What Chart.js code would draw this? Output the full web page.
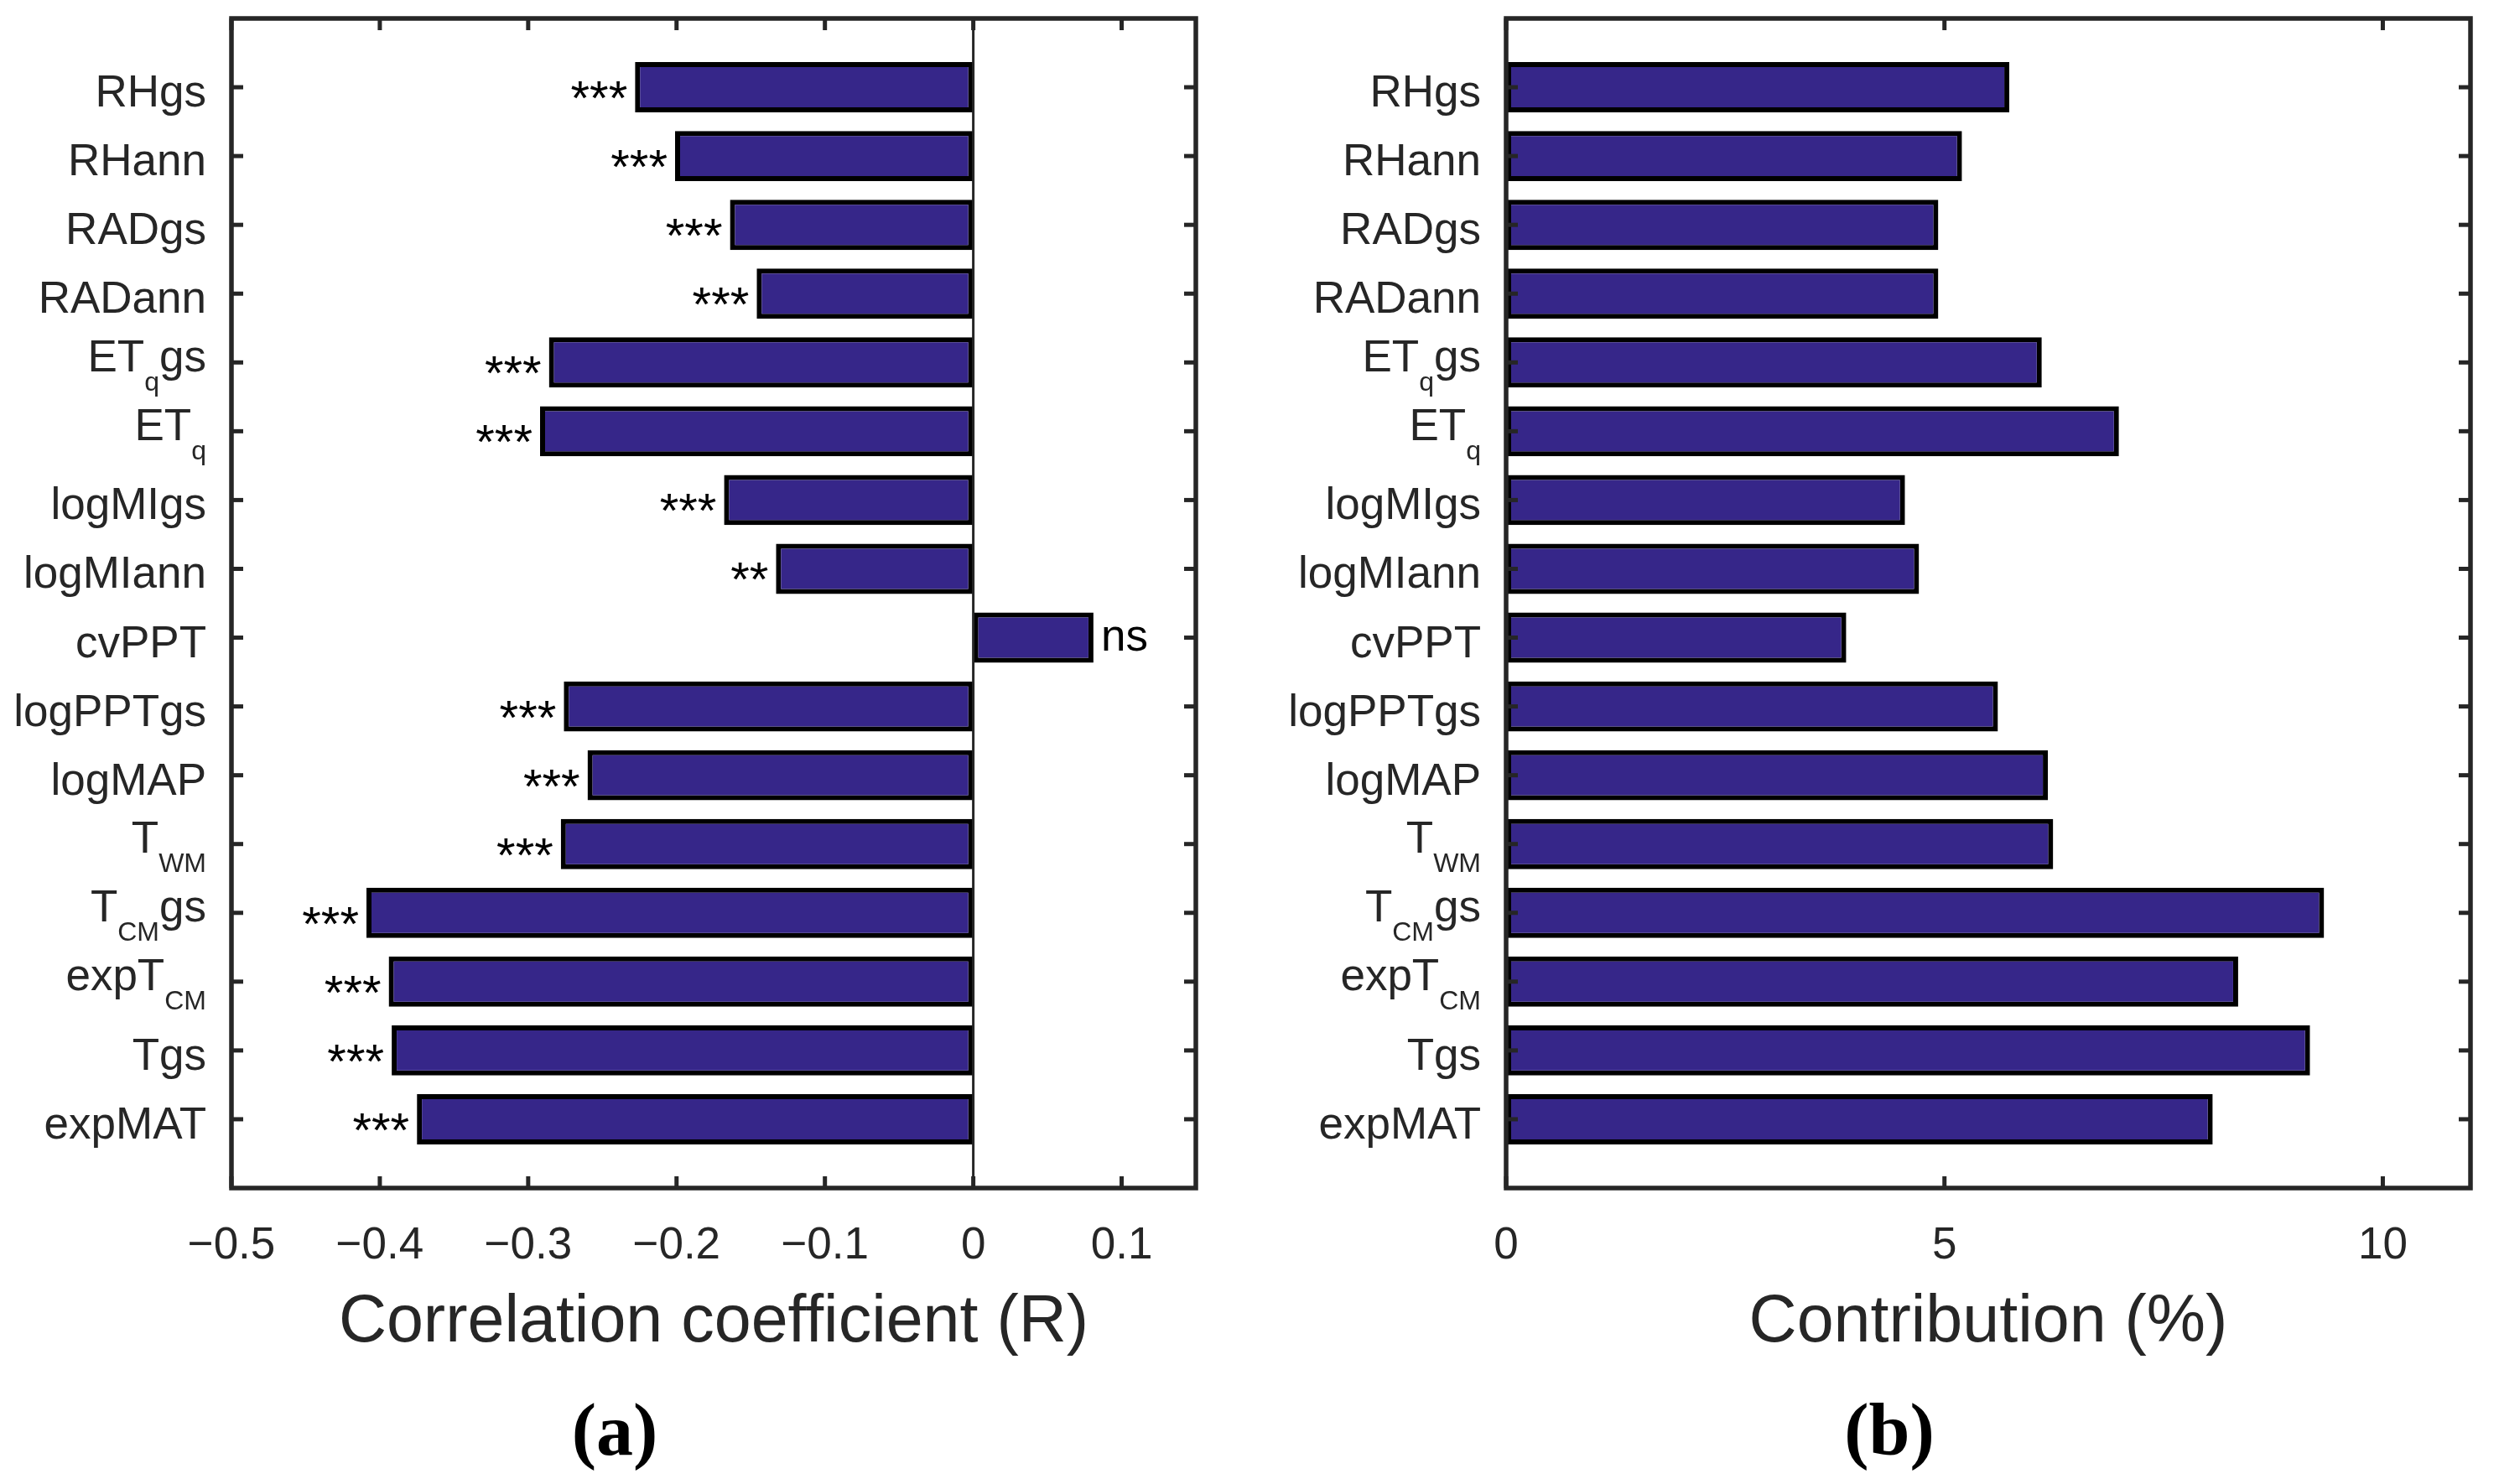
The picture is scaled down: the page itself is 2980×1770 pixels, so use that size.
<!DOCTYPE html>
<html>
<head>
<meta charset="utf-8">
<script src="https://cdn.jsdelivr.net/npm/chart.js@4.4.0/dist/chart.umd.min.js"></script>
<style>
  body { margin: 0; background: #fff; }
  #wrap { position: relative; width: 2980px; height: 1770px; }
  canvas { position: absolute; top: 0; }
</style>
</head>
<body>
<div id="wrap">
  <canvas id="corr" width="1490" height="1770" style="left:0"></canvas>
  <canvas id="contrib" width="1490" height="1770" style="left:1490px"></canvas>
</div>
<script>
// predictors, top to bottom; _{..} marks a subscript
var categories = ['RHgs', 'RHann', 'RADgs', 'RADann', 'ET_{q}gs', 'ET_{q}', 'logMIgs', 'logMIann',
                  'cvPPT', 'logPPTgs', 'logMAP', 'T_{WM}', 'T_{CM}gs', 'expT_{CM}', 'Tgs', 'expMAT'];
var corrValues = [-0.228, -0.201, -0.164, -0.146, -0.286, -0.292, -0.168, -0.133,
                  0.081, -0.276, -0.260, -0.278, -0.409, -0.394, -0.392, -0.375];
var significance = ['***', '***', '***', '***', '***', '***', '***', '**',
                    'ns', '***', '***', '***', '***', '***', '***', '***'];
var contribValues = [5.74, 5.20, 4.93, 4.93, 6.11, 6.99, 4.55, 4.71,
                     3.88, 5.61, 6.18, 6.24, 9.33, 8.35, 9.17, 8.06];
var corrTicks = [-0.5, -0.4, -0.3, -0.2, -0.1, 0, 0.1];
var corrTickLabels = ['\u22120.5', '\u22120.4', '\u22120.3', '\u22120.2', '\u22120.1', '0', '0.1'];
var contribTicks = [0, 5, 10];
var contribTickLabels = ['0', '5', '10'];

var INK = '#262626';
var LABEL_FONT = '53px "Liberation Sans"';
var SUB_FONT = '32px "Liberation Sans"';
var STAR_FONT = '58px "Liberation Sans"';

Chart.defaults.font.family = '"Liberation Sans", Arial, sans-serif';
Chart.defaults.color = INK;

function labelParts(s) {
    var parts = [], re = /_\{([^}]*)\}/g, last = 0, m;
    while ((m = re.exec(s))) {
        if (m.index > last) parts.push({ t: s.slice(last, m.index), sub: false });
        parts.push({ t: m[1], sub: true });
        last = re.lastIndex;
    }
    if (last < s.length) parts.push({ t: s.slice(last), sub: false });
    return parts;
}

function drawLabel(ctx, s, xRight, yTick) {
    var parts = labelParts(s);
    var hasSub = parts.some(function (p) { return p.sub; });
    var base = yTick + (hasSub ? 10.5 : 23);
    var w = 0;
    parts.forEach(function (p) {
        ctx.font = p.sub ? SUB_FONT : LABEL_FONT;
        p.w = ctx.measureText(p.t).width;
        w += p.w;
    });
    var x = xRight - w;
    parts.forEach(function (p) {
        ctx.font = p.sub ? SUB_FONT : LABEL_FONT;
        ctx.fillText(p.t, x, p.sub ? base + 23 : base);
        x += p.w;
    });
}

function line(ctx, x1, y1, x2, y2) {
    ctx.beginPath();
    ctx.moveTo(x1, y1);
    ctx.lineTo(x2, y2);
    ctx.stroke();
}

// box, inward ticks, category labels, significance marks, panel letter
var decor = {
    id: 'decor',
    afterDraw: function (chart, args, opts) {
        var ctx = chart.ctx, a = chart.chartArea;
        var x = chart.scales.x, y = chart.scales.y;
        ctx.save();
        ctx.strokeStyle = INK;
        ctx.lineCap = 'butt';

        if (opts.zero) {
            ctx.lineWidth = 3;
            var z = x.getPixelForValue(0);
            line(ctx, z, a.top, z, a.bottom);
        }

        ctx.lineWidth = 5;
        x.ticks.forEach(function (t) {
            var px = x.getPixelForValue(t.value);
            line(ctx, px, a.bottom, px, a.bottom - 14);
            line(ctx, px, a.top, px, a.top + 14);
        });
        categories.forEach(function (c, i) {
            var py = y.getPixelForValue(i + 1);
            line(ctx, a.left, py, a.left + 14, py);
            line(ctx, a.right, py, a.right - 14, py);
        });

        ctx.lineWidth = 5.5;
        ctx.strokeRect(a.left, a.top, a.right - a.left, a.bottom - a.top);

        ctx.fillStyle = INK;
        ctx.textAlign = 'left';
        ctx.textBaseline = 'alphabetic';
        categories.forEach(function (c, i) {
            drawLabel(ctx, c, a.left - 30, y.getPixelForValue(i + 1));
        });

        if (opts.sig) {
            ctx.fillStyle = '#000';
            opts.sig.forEach(function (s, i) {
                var v = opts.values[i];
                var px = x.getPixelForValue(v), py = y.getPixelForValue(i + 1);
                var star = s.charAt(0) === '*';
                ctx.font = star ? STAR_FONT : LABEL_FONT;
                ctx.textAlign = v < 0 ? 'right' : 'left';
                ctx.fillText(s, v < 0 ? px - 9 : px + 9, py + (star ? 33 : 15));
            });
        }

        ctx.fillStyle = '#000';
        ctx.font = 'bold 88px "Liberation Serif"';
        ctx.textAlign = 'center';
        ctx.fillText(opts.letter, (a.left + a.right) / 2 - 118, 1735);
        ctx.restore();
    }
};

function makeChart(id, values, ticks, tickLabels, min, max, title, yWidth, padRight, extra) {
    var ctx = document.getElementById(id).getContext('2d');
    return new Chart(ctx, {
        type: 'bar',
        data: {
            labels: [''].concat(categories, ['']),
            datasets: [{
                data: [null].concat(values, [null]),
                backgroundColor: 'rgb(54, 38, 137)',
                borderColor: '#000',
                borderWidth: 6,
                borderSkipped: false,
                barPercentage: 0.73,
                categoryPercentage: 1
            }]
        },
        options: {
            indexAxis: 'y',
            responsive: false,
            animation: false,
            devicePixelRatio: 1,
            layout: { padding: { top: 22, right: padRight, left: 0, bottom: 0 } },
            plugins: {
                legend: { display: false },
                tooltip: { enabled: false },
                decor: extra
            },
            scales: {
                x: {
                    type: 'linear',
                    min: min,
                    max: max,
                    grid: { display: false },
                    border: { display: false },
                    afterBuildTicks: function (s) {
                        s.ticks = ticks.map(function (v) { return { value: v }; });
                    },
                    afterFit: function (s) { s.height = 353; },
                    ticks: {
                        autoSkip: false,
                        maxRotation: 0,
                        padding: 30,
                        font: { size: 53 },
                        callback: function (v, i) { return tickLabels[i]; }
                    },
                    title: {
                        display: true,
                        text: title,
                        font: { size: 79 },
                        padding: { top: 0, bottom: 144 }
                    }
                },
                y: {
                    type: 'category',
                    offset: false,
                    grid: { display: false },
                    border: { display: false },
                    ticks: { display: false },
                    afterFit: function (s) { s.width = yWidth; }
                }
            }
        },
        plugins: [decor]
    });
}

makeChart('corr', corrValues, corrTicks, corrTickLabels, -0.5, 0.15,
          'Correlation coefficient (R)', 276, 64,
          { zero: true, sig: significance, values: corrValues, letter: '(a)' });
makeChart('contrib', contribValues, contribTicks, contribTickLabels, 0, 11,
          'Contribution (%)', 306, 34,
          { zero: false, sig: null, values: contribValues, letter: '(b)' });
</script>
</body>
</html>
